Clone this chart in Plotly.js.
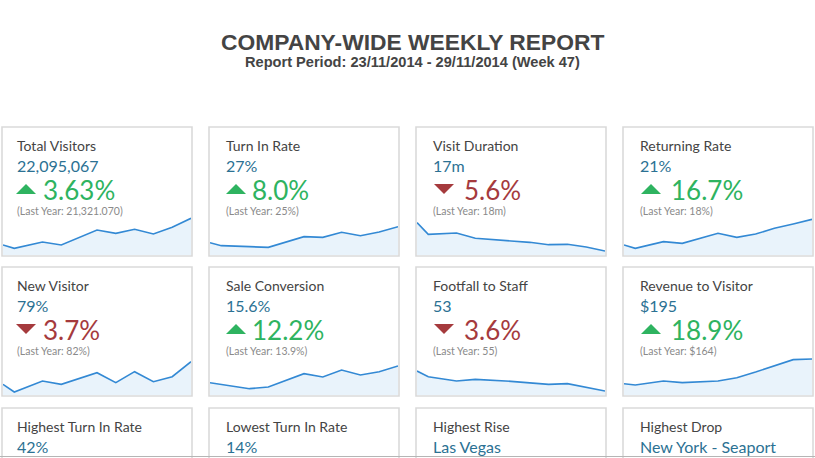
<!DOCTYPE html>
<html><head><meta charset="utf-8">
<script src="https://cdn.plot.ly/plotly-3.0.1.min.js"></script>
<style>html,body{margin:0;padding:0;background:#fff;overflow:hidden}#chart{width:815px;height:458px}</style>
</head><body><div id="chart"></div><script>
const reportTitle = 'COMPANY-WIDE WEEKLY REPORT';
const reportSubtitle = 'Report Period: 23/11/2014 - 29/11/2014 (Week 47)';
const metricNames = ['Total Visitors','Turn In Rate','Visit Duration','Returning Rate','New Visitor','Sale Conversion','Footfall to Staff','Revenue to Visitor'];
const metricValues = ['22,095,067','27%','17m','21%','79%','15.6%','53','$195'];
const changePct = ['3.63%','8.0%','5.6%','16.7%','3.7%','12.2%','3.6%','18.9%'];
const changeDir = ['up','up','down','up','down','up','down','up'];
const lastYearValues = ['21,321.070','25%','18m','18%','82%','13.9%','55','$164'];
const highlightNames = ['Highest Turn In Rate','Lowest Turn In Rate','Highest Rise','Highest Drop'];
const highlightValues = ['42%','14%','Las Vegas','New York - Seaport'];
const sparkX = [0,0.6,2.1,3.1,5,6,7,8,9,10];
const sparkTotalVisitors = [30,20,39,30,75,65,77,63,83,110];
const sparkTurnInRate = [37,28,25,23,55,53,68,58,69,85];
const sparkVisitDuration = [97,62,66,50,42,38,31,32,24,12];
const sparkReturningRate = [30,20,40,35,65,53,63,80,93,107];
const sparkNewVisitor = [32,9,42,32,67,37,70,40,55,100];
const sparkSaleConversion = [37,32,19,24,64,54,75,60,70,87];
const sparkFootfallToStaff = [72,55,42,47,41,36,32,34,23,12];
const sparkRevenueToVisitor = [34,30,42,37,42,52,69,87,106,108];
const sparkSeries = [sparkTotalVisitors,sparkTurnInRate,sparkVisitDuration,sparkReturningRate,sparkNewVisitor,sparkSaleConversion,sparkFootfallToStaff,sparkRevenueToVisitor];

const W = 815, H = 458;
const colLeft = [2, 209, 416, 623];
const rowTop = [127, 267, 408];
const cardW = 190, cardH = 129;
const textOff = [13, 15, 15, 15];
const triOff = [14, 17, 18, 18];
const chgOff = [39, 41, 46, 46];
const px = v => v / W;
const py = v => 1 - v / H;

const FONT = 'Lato, "Open Sans", sans-serif';
const cTitle = '#444444', cValue = '#2b7193', cUp = '#2eb360', cDown = '#a53a3d', cGray = '#8a8a8a';

const traces = [], shapes = [], annotations = [];
const layout = {
  width: W, height: H, margin: {l:0,r:0,t:0,b:0},
  paper_bgcolor: '#ffffff', plot_bgcolor: 'rgba(0,0,0,0)', showlegend: false
};

annotations.push({text: reportTitle, x: px(413), y: py(42), xref:'paper', yref:'paper', xanchor:'center', yanchor:'middle', showarrow:false,
  font:{family:'"Liberation Sans", Arial, sans-serif', size:22.8, color:'#444444', weight:'bold'}});
annotations.push({text: reportSubtitle, x: px(412), y: py(62), xref:'paper', yref:'paper', xanchor:'center', yanchor:'middle', showarrow:false,
  font:{family:'"Liberation Sans", Arial, sans-serif', size:14.6, color:'#444444', weight:'bold'}});

function card(col, row) {
  const l = colLeft[col], t = rowTop[row];
  shapes.push({type:'rect', xref:'paper', yref:'paper', x0:px(l), x1:px(l+cardW), y0:py(t+cardH), y1:py(t),
    fillcolor:'#ffffff', line:{color:'#dadada', width:1.6}, layer:'below'});
}
function ann(text, x, y, size, color) {
  annotations.push({text, x: px(x), y: py(y), xref:'paper', yref:'paper', xanchor:'left', yanchor:'middle',
    showarrow:false, font:{family:FONT, size, color}});
}

for (let i = 0; i < metricNames.length; i++) {
  const col = i % 4, row = Math.floor(i / 4);
  const l = colLeft[col], t = rowTop[row];
  card(col, row);
  ann(metricNames[i], l + textOff[col], t + 18, 14, cTitle);
  ann(metricValues[i], l + textOff[col], t + 38, 16, cValue);
  const up = changeDir[i] === 'up';
  const clr = up ? cUp : cDown;
  const tx = l + triOff[col], ty = t + 62;
  const path = up
    ? `M ${px(tx)} ${py(ty+5)} L ${px(tx+20)} ${py(ty+5)} L ${px(tx+10)} ${py(ty-5)} Z`
    : `M ${px(tx)} ${py(ty-5)} L ${px(tx+20)} ${py(ty-5)} L ${px(tx+10)} ${py(ty+5)} Z`;
  shapes.push({type:'path', xref:'paper', yref:'paper', path, fillcolor:clr, line:{width:0}});
  ann(changePct[i], l + chgOff[col], t + 63, 26, clr);
  ann('(Last Year: ' + lastYearValues[i] + ')', l + textOff[col], t + 84, 10.5, cGray);

  const k = i + 1;
  const s = k === 1 ? '' : k;
  layout['xaxis' + s] = {domain:[px(l+1), px(l+cardW-1)], range:[0,10], visible:false, fixedrange:true, anchor:'y'+s};
  layout['yaxis' + s] = {domain:[py(t+cardH-1), py(t+cardH-46)], range:[0,135], visible:false, fixedrange:true, anchor:'x'+s};
  traces.push({x: sparkX, y: sparkSeries[i], type:'scatter', mode:'lines', fill:'tozeroy',
    fillcolor:'#e9f3fb', line:{color:'#3389d4', width:1.6}, xaxis:'x'+s, yaxis:'y'+s, hoverinfo:'skip'});
}
for (let j = 0; j < highlightNames.length; j++) {
  const l = colLeft[j], t = rowTop[2];
  card(j, 2);
  ann(highlightNames[j], l + textOff[j], t + 18, 14, cTitle);
  ann(highlightValues[j], l + textOff[j], t + 38, 16, cValue);
}
shapes.push({type:'line', xref:'paper', yref:'paper', x0:0, x1:1, y0:py(456.5), y1:py(456.5), line:{color:'#b5b5b5', width:1}});

layout.shapes = shapes;
layout.annotations = annotations;
Plotly.newPlot('chart', traces, layout, {displayModeBar:false, staticPlot:true});
</script></body></html>
